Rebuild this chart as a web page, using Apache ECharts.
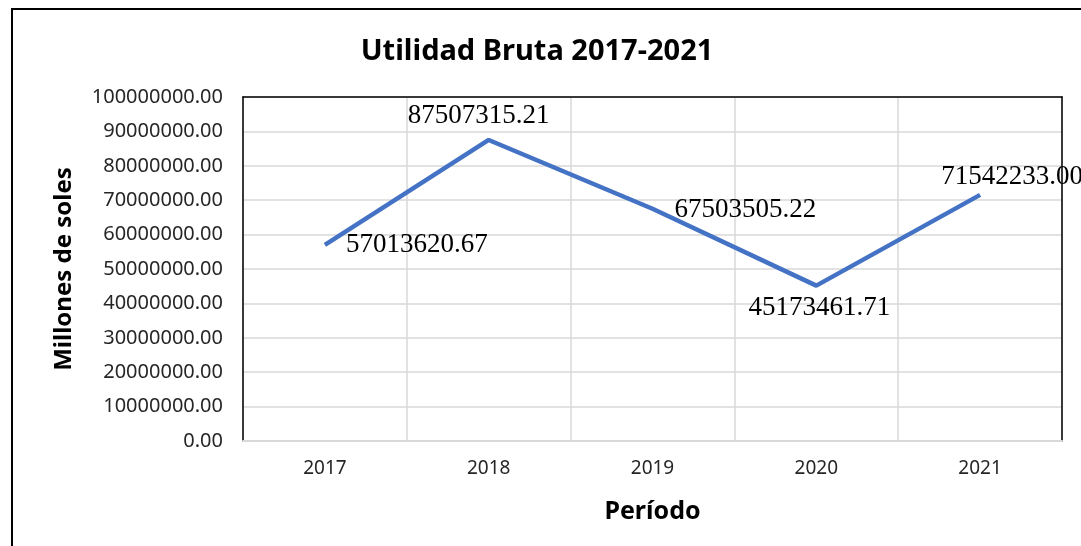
<!DOCTYPE html>
<html>
<head>
<meta charset="utf-8">
<script src="https://cdn.jsdelivr.net/npm/echarts@6/dist/echarts.min.js"></script>
<style>
    html, body { margin: 0; padding: 0; background: #fff; }
    #chart { width: 1081px; height: 546px; }
</style>
</head>
<body>
<div id="chart"></div>
<script>
// datos
var years = ['2017', '2018', '2019', '2020', '2021'];
var utilidad = [57013620.67, 87507315.21, 67503505.22, 45173461.71, 71542233.00];
// posicion de cada etiqueta de dato
var labelPos = [
    { position: 'right', distance: 20, offset: [0, 0] },
    { position: 'top', distance: 10, offset: [-10, 0] },
    { position: 'right', distance: 21, offset: [0, 1] },
    { position: 'bottom', distance: 8, offset: [3, 0] },
    { position: 'top', distance: 3, offset: [32, 0] }
];

var chart = echarts.init(document.getElementById('chart'));
chart.setOption({
    backgroundColor: '#fff',
    animation: false,
    title: {
        text: 'Utilidad Bruta 2017-2021',
        left: 532,
        top: 32,
        textAlign: 'center',
        textStyle: {
            fontFamily: 'Noto Sans',
            fontSize: 29,
            fontWeight: 'bold',
            color: '#000'
        }
    },
    graphic: [{
        type: 'rect',
        shape: { x: 12, y: 9, width: 1100, height: 560 },
        style: { fill: 'none', stroke: '#000', lineWidth: 2 },
        silent: true
    }],
    grid: {
        left: 243,
        right: 19,
        top: 97,
        bottom: 105
    },
    xAxis: [{
        type: 'category',
        data: years,
        position: 'bottom',
        boundaryGap: true,
        name: 'Período',
        nameLocation: 'middle',
        nameGap: 58,
        nameTextStyle: {
            fontFamily: 'Noto Sans',
            fontSize: 25,
            fontWeight: 'bold',
            color: '#000'
        },
        axisLine: { onZero: false, lineStyle: { color: '#d9d9d9', width: 2 } },
        axisTick: { show: false },
        axisLabel: {
            margin: 18,
            fontFamily: 'Noto Sans',
            fontSize: 19,
            color: '#262626'
        },
        splitLine: { show: true, lineStyle: { color: '#d9d9d9', width: 1.5 } }
    }, {
        // borde superior del area
        type: 'category',
        data: years,
        position: 'top',
        axisLine: { onZero: false, lineStyle: { color: '#000', width: 1.5 } },
        axisTick: { show: false },
        axisLabel: { show: false },
        splitLine: { show: false }
    }],
    yAxis: [{
        type: 'value',
        min: 0,
        max: 100000000,
        interval: 10000000,
        position: 'left',
        name: 'Millones de soles',
        nameLocation: 'middle',
        nameGap: 167,
        nameTextStyle: {
            fontFamily: 'Noto Sans',
            fontSize: 24,
            fontWeight: 'bold',
            color: '#000'
        },
        axisLine: { show: true, onZero: false, lineStyle: { color: '#000', width: 1.5 } },
        axisTick: { show: false },
        axisLabel: {
            margin: 20,
            fontFamily: 'Noto Sans',
            fontSize: 20,
            color: '#262626',
            formatter: function (v) { return v.toFixed(2); }
        },
        splitLine: { lineStyle: { color: '#d9d9d9', width: 1.5 } }
    }, {
        // borde derecho del area
        type: 'value',
        min: 0,
        max: 100000000,
        interval: 10000000,
        position: 'right',
        axisLine: { show: true, onZero: false, lineStyle: { color: '#000', width: 1.5 } },
        axisTick: { show: false },
        axisLabel: { show: false },
        splitLine: { show: false }
    }],
    series: [{
        type: 'line',
        data: utilidad.map(function (v, i) {
            return {
                value: v,
                label: labelPos[i]
            };
        }),
        showSymbol: true,
        symbol: 'circle',
        symbolSize: 2,
        lineStyle: { color: '#4472c4', width: 4.5 },
        itemStyle: { color: 'rgba(68,114,196,0)', borderWidth: 0 },
        label: {
            show: true,
            fontFamily: 'Liberation Serif',
            fontSize: 27,
            color: '#000',
            formatter: function (p) { return p.value.toFixed(2); }
        }
    }]
});
</script>
</body>
</html>
